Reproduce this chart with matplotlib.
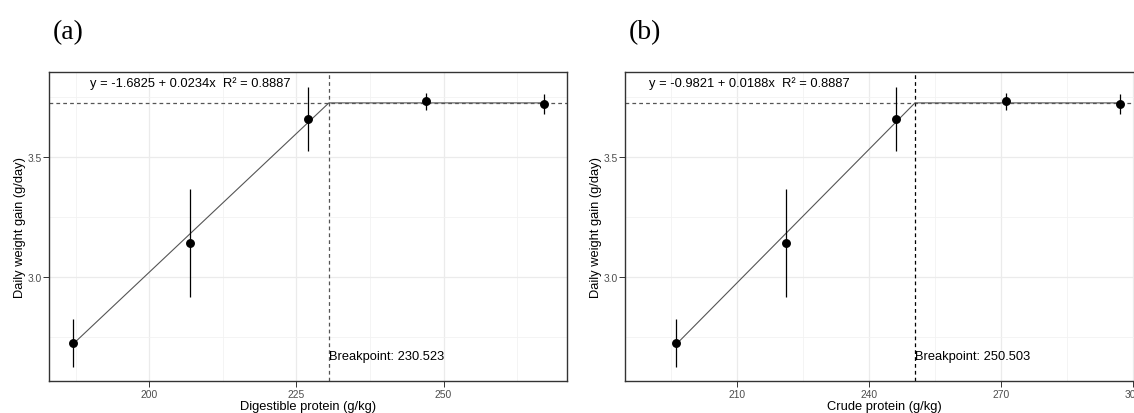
import matplotlib
matplotlib.use("Agg")
import matplotlib.pyplot as plt

plt.rcParams['font.family'] = ['Liberation Sans', 'DejaVu Sans']

# data
dp_x = [187, 207, 227, 247, 267]            # digestible protein (g/kg)
cp_x = [196.2, 221.1, 246.1, 271.1, 297.0]  # crude protein (g/kg)
gain = [2.726, 3.142, 3.660, 3.734, 3.721]  # daily weight gain (g/day)
gain_err = [0.100, 0.225, 0.135, 0.036, 0.041]
fit_start = [2.72, 2.72]
plateau = 3.727
breakpoints = [230.523, 250.503]
equations = ["y = -1.6825 + 0.0234x  R\u00b2 = 0.8887",
             "y = -0.9821 + 0.0188x  R\u00b2 = 0.8887"]
xlabels = ["Digestible protein (g/kg)", "Crude protein (g/kg)"]
panel_tags = ["(a)", "(b)"]
xlims = [(183.0, 271.0), (184.6, 302.4)]
xticks_major = [[200, 225, 250], [210, 240, 270, 300]]
xticks_minor = [[187.5, 212.5, 237.5, 262.5], [195, 225, 255, 285]]
vline_colors = ["#555555", "black"]

W, H = 1134, 414
fig = plt.figure(figsize=(W / 100, H / 100), dpi=100)

ax_left = [49 / W, 625 / W]
ax_w = 518.3 / W
ax_b = 1 - 382 / H
ax_h = (382 - 72.7) / H

for i, xs in enumerate([dp_x, cp_x]):
    ax = fig.add_axes([ax_left[i], ax_b, ax_w, ax_h])

    # grid like theme_bw
    ax.set_xticks(xticks_major[i])
    ax.set_xticks(xticks_minor[i], minor=True)
    ax.set_yticks([3.0, 3.5])
    ax.set_yticks([2.75, 3.25, 3.75], minor=True)
    ax.grid(which="major", color="#EBEBEB", lw=0.9)
    ax.grid(which="minor", color="#F2F2F2", lw=0.6)
    ax.set_axisbelow(True)

    bp = breakpoints[i]
    ax.axhline(plateau, color="#555555", lw=0.9, ls=(0, (3, 2.5)), zorder=2)
    ax.axvline(bp, color=vline_colors[i], lw=0.9, ls=(0, (3, 2.5)), zorder=2)

    # segmented fit
    ax.plot([xs[0], bp, xs[-1]], [fit_start[i], plateau, plateau],
            color="#555555", lw=0.8, zorder=3)

    ax.errorbar(xs, gain, yerr=gain_err, fmt="o", color="black",
                ms=5.4, elinewidth=0.9, capsize=0, zorder=4)

    ax.text(190, 3.812, equations[i], fontsize=9.3, ha="left", va="center")
    ax.text(bp, 2.673, "Breakpoint: %.3f" % bp, fontsize=9.3,
            ha="left", va="center")

    ax.set_xlim(*xlims[i])
    ax.set_ylim(2.568, 3.857)
    ax.set_xticklabels([str(t) for t in xticks_major[i]])
    ax.set_yticklabels(["3.0", "3.5"])
    ax.tick_params(which="major", length=4, width=0.7, color="#333333",
                   labelsize=7.4, labelcolor="#4D4D4D", pad=1.5)
    ax.tick_params(which="minor", length=0)

    for s in ax.spines.values():
        s.set_color("#333333")
        s.set_linewidth(1.0)

    # x title kept just inside the bottom edge
    ax.set_xlabel(xlabels[i], fontsize=9.3)
    ax.xaxis.set_label_coords(0.5, -0.063)
    ax.set_ylabel("Daily weight gain (g/day)", fontsize=9.3)
    ax.yaxis.set_label_coords(-0.045, 0.5)

    fig.text(ax_left[i] + 4 / W, 1 - 39.5 / H, panel_tags[i],
             family=["Liberation Serif", "DejaVu Serif"], fontsize=20,
             ha="left", va="baseline")

fig.savefig("out.png", dpi=100)
